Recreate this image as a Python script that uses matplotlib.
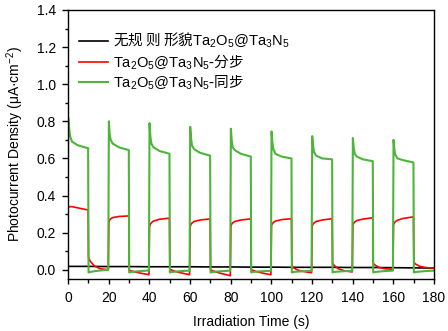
import matplotlib
matplotlib.use('Agg')
import matplotlib.pyplot as plt
from matplotlib.ticker import MultipleLocator

plt.rcParams['font.family'] = ['Liberation Sans', 'Noto Sans CJK SC', 'DejaVu Sans']
plt.rcParams['mathtext.fontset'] = 'custom'
plt.rcParams['mathtext.rm'] = 'Liberation Sans'
plt.rcParams['mathtext.it'] = 'Liberation Sans:italic'
plt.rcParams['mathtext.default'] = 'regular'

# ---------------- data ----------------
cycle_starts = [0, 20, 40, 60, 80, 100, 120, 140, 160]     # light on (s)
on_offsets = [0.1, 0.5, 1.0, 2.0, 5.0, 9.9]                # sample times within light-on
off_offsets = [10.1, 11.0, 13.0, 16.0, 19.8]               # sample times within light-off

green_start = 0.58
green_on = [
    [0.82, 0.77, 0.72, 0.69, 0.670, 0.655],
    [0.80, 0.73, 0.70, 0.68, 0.660, 0.645],
    [0.79, 0.72, 0.68, 0.66, 0.640, 0.625],
    [0.77, 0.71, 0.67, 0.65, 0.630, 0.615],
    [0.76, 0.70, 0.66, 0.645, 0.625, 0.610],
    [0.745, 0.69, 0.65, 0.625, 0.610, 0.600],
    [0.72, 0.67, 0.635, 0.615, 0.600, 0.595],
    [0.71, 0.66, 0.625, 0.610, 0.595, 0.585],
    [0.70, 0.65, 0.620, 0.600, 0.590, 0.578],
]
green_off = [
    [-0.015, -0.012, -0.008, -0.004, 0.000],
    [-0.015, -0.012, -0.010, -0.007, -0.004],
    [-0.015, -0.012, -0.010, -0.007, -0.005],
    [-0.015, -0.012, -0.010, -0.008, -0.005],
    [-0.015, -0.012, -0.010, -0.008, -0.006],
    [-0.015, -0.012, -0.010, -0.008, -0.006],
    [-0.015, -0.012, -0.010, -0.008, -0.006],
    [-0.015, -0.012, -0.010, -0.007, -0.005],
    [-0.015, -0.012, -0.010, -0.007, -0.005],
]

red_start = 0.27
red_on = [
    [0.335, 0.338, 0.340, 0.340, 0.333, 0.322],
    [0.255, 0.268, 0.275, 0.281, 0.287, 0.290],
    [0.232, 0.245, 0.253, 0.262, 0.272, 0.278],
    [0.232, 0.245, 0.252, 0.260, 0.268, 0.274],
    [0.236, 0.246, 0.253, 0.260, 0.268, 0.274],
    [0.240, 0.248, 0.255, 0.262, 0.270, 0.275],
    [0.234, 0.245, 0.252, 0.260, 0.268, 0.275],
    [0.242, 0.250, 0.257, 0.265, 0.273, 0.280],
    [0.243, 0.252, 0.259, 0.267, 0.277, 0.285],
]
red_off = [
    [0.065, 0.045, 0.020, 0.005, 0.000],
    [-0.003, -0.006, -0.012, -0.019, -0.027],
    [0.002, -0.002, -0.010, -0.018, -0.027],
    [0.000, -0.005, -0.013, -0.022, -0.032],
    [0.000, -0.004, -0.011, -0.019, -0.027],
    [0.022, 0.010, -0.002, -0.010, -0.016],
    [0.035, 0.022, 0.005, -0.006, -0.012],
    [0.035, 0.025, 0.012, 0.005, 0.002],
    [0.040, 0.030, 0.018, 0.012, 0.008],
]

black_t = [0, 10, 20, 30, 40, 50, 60, 70, 80, 90, 100, 110, 120, 130, 140, 150, 160, 170, 179.5]
black_v = [0.018, 0.018, 0.017, 0.017, 0.016, 0.016, 0.016, 0.015, 0.015, 0.014,
           0.014, 0.013, 0.013, 0.013, 0.012, 0.012, 0.011, 0.010, 0.009]

labels = [r'无规 则 形貌$\mathrm{Ta_2O_5@Ta_3N_5}$',
          r'$\mathrm{Ta_2O_5@Ta_3N_5}$-分步',
          r'$\mathrm{Ta_2O_5@Ta_3N_5}$-同步']
colors = ['#000000', '#FF0000', '#4CB53A']


def build(start_v, on_vals, off_vals):
    t, v = [0.0], [start_v]
    for c, on, off in zip(cycle_starts, on_vals, off_vals):
        t += [c + o for o in on_offsets]
        v += on
        t += [c + o for o in off_offsets]
        v += off
    return t, v


green_t, green_v = build(green_start, green_on, green_off)
red_t, red_v = build(red_start, red_on, red_off)

# ---------------- figure ----------------
fig = plt.figure(figsize=(4.48, 3.31), dpi=100)
ax = fig.add_axes([68 / 448, (331 - 279) / 331, 366 / 448, 269 / 331])

ax.plot(black_t, black_v, color=colors[0], lw=1.2, label=labels[0])
ax.plot(red_t, red_v, color=colors[1], lw=1.2, label=labels[1])
ax.plot(green_t, green_v, color=colors[2], lw=1.5, label=labels[2])

ax.set_xlim(0, 180)
ax.set_ylim(-0.05, 1.4)
ax.xaxis.set_major_locator(MultipleLocator(20))
ax.xaxis.set_minor_locator(MultipleLocator(10))
ax.yaxis.set_major_locator(MultipleLocator(0.2))
ax.yaxis.set_minor_locator(MultipleLocator(0.1))
ax.yaxis.set_major_formatter(plt.FormatStrFormatter('%.1f'))

ax.tick_params(axis='both', which='both', direction='out', top=False, right=False,
               labelsize=10, width=1.0)
ax.tick_params(axis='x', which='major', length=3.5, pad=5)
ax.tick_params(axis='x', which='minor', length=3.0)
ax.tick_params(axis='y', which='major', length=4.0, pad=4.5)
ax.tick_params(axis='y', which='minor', length=2.5)
for s in ax.spines.values():
    s.set_linewidth(1.0)

ax.set_xlabel('Irradiation Time (s)', fontsize=10, labelpad=7)
ax.set_ylabel('Photocurrent Density (μA·cm$^{-2}$)', fontsize=10, labelpad=8)

leg = ax.legend(loc='upper left', bbox_to_anchor=(0.03, 0.922), frameon=False,
                borderpad=0, borderaxespad=0, handlelength=2.0, handletextpad=0.35,
                labelspacing=0.12, prop={'family': 'Noto Sans CJK SC', 'size': 10.5})

fig.savefig('out.png', dpi=100)
